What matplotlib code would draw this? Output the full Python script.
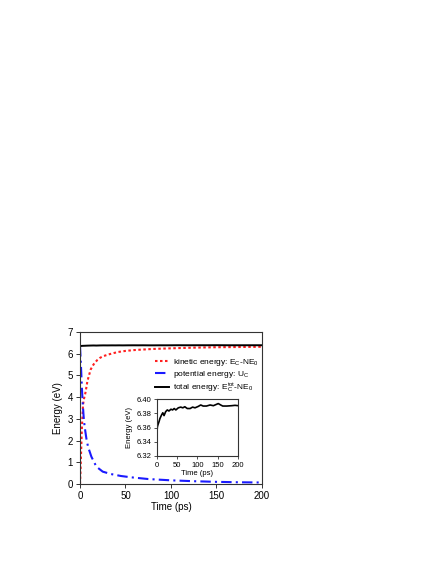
import numpy as np
import matplotlib.pyplot as plt

plt.rcParams['font.family'] = ['Liberation Sans', 'DejaVu Sans']
plt.rcParams['mathtext.fontset'] = 'custom'
plt.rcParams['mathtext.rm'] = 'Liberation Sans'
plt.rcParams['mathtext.it'] = 'Liberation Sans'

# ---------------------------------------------------------------------------
# Data
# ---------------------------------------------------------------------------
t_kin = [0, 0.5, 1, 2, 3.3, 4.5, 5.9, 7, 8.1, 10, 11.7, 14, 16, 19, 21.6, 25,
         30.8, 36, 41.8, 50, 60, 80, 100, 125, 150, 175, 200]
e_kin = [0, 0.5, 1.2, 2.5, 3.65, 3.95, 4.19, 4.45, 4.73, 5.02, 5.27, 5.45,
         5.57, 5.71, 5.80, 5.88, 5.96, 6.02, 6.08, 6.13, 6.17, 6.22, 6.25,
         6.28, 6.30, 6.31, 6.32]

t_pot = [0, 1, 2, 2.7, 4, 5.1, 7, 8.8, 12.5, 18, 25, 34, 45, 56, 75, 100,
         125, 150, 175, 200]
e_pot = [6.35, 5.5, 4.5, 3.9, 3.1, 2.64, 2.1, 1.72, 1.26, 0.80, 0.57, 0.46,
         0.37, 0.31, 0.23, 0.17, 0.13, 0.10, 0.08, 0.07]

t_tot = [0, 0.5, 1.0, 1.6, 3, 5.7, 8, 12, 15, 18, 22, 26, 30, 35, 39, 43, 47,
         53, 59, 64, 69, 75, 82, 88, 94, 102, 108, 114, 122, 131, 139, 147,
         151, 157, 162, 172, 184, 192, 200]
e_tot = [6.335, 6.345, 6.356, 6.361, 6.364, 6.3685, 6.373, 6.378, 6.381,
         6.377, 6.3826, 6.385, 6.3835, 6.386, 6.385, 6.387, 6.385, 6.388,
         6.389, 6.388, 6.3895, 6.387, 6.387, 6.389, 6.388, 6.390, 6.392,
         6.3905, 6.3905, 6.392, 6.391, 6.393, 6.394, 6.392, 6.3905, 6.3905,
         6.391, 6.3915, 6.391]

spine_color = '#333333'

fig = plt.figure(figsize=(4.36, 5.64), dpi=100)
ax = fig.add_axes([0.1835, 0.1418, 0.417, 0.2695])

ax.plot(t_kin, e_kin, color='#ff2020', ls=(0, (1.2, 1.2)), lw=1.5,
        label='kinetic energy: E$_\\mathregular{C}$-NE$_\\mathregular{0}$')
ax.plot(t_pot, e_pot, color='#1a1aff', ls=(0, (5, 2, 1, 2)), lw=1.5,
        label='potential energy: U$_\\mathregular{C}$')
ax.plot(t_tot, e_tot, color='black', lw=1.4,
        label='total energy: E$_\\mathregular{C}^\\mathregular{tot}$-NE$_\\mathregular{0}$')

ax.set_xlim(0, 200)
ax.set_ylim(0, 7)
ax.set_xticks([0, 50, 100, 150, 200])
ax.set_yticks(range(8))
ax.set_xlabel('Time (ps)', fontsize=7, labelpad=1)
ax.set_ylabel('Energy (eV)', fontsize=7, labelpad=3)
ax.tick_params(direction='out', length=3, width=0.7, labelsize=7, pad=2,
               color=spine_color)
for s in ax.spines.values():
    s.set_color(spine_color)
    s.set_linewidth(0.8)
ax.legend(loc='upper right', bbox_to_anchor=(1.01, 0.87), frameon=False,
          fontsize=6, handlelength=1.7, handletextpad=0.45, labelspacing=0.15,
          borderaxespad=0.2)

# inset
axi = fig.add_axes([0.3594, 0.1915, 0.187, 0.1005])
axi.plot(t_tot, e_tot, color='black', lw=1.2)
axi.set_xlim(0, 200)
axi.set_ylim(6.32, 6.40)
axi.set_xticks([0, 50, 100, 150, 200])
axi.set_yticks([6.32, 6.34, 6.36, 6.38, 6.40])
axi.set_yticklabels(['6.32', '6.34', '6.36', '6.38', '6.40'])
axi.set_xlabel('Time (ps)', fontsize=5.5, labelpad=1)
axi.set_ylabel('Energy (eV)', fontsize=5.5, labelpad=2)
axi.tick_params(direction='out', length=2.5, width=0.6, labelsize=5.5, pad=1.5,
                color=spine_color)
for s in axi.spines.values():
    s.set_color(spine_color)
    s.set_linewidth(0.8)

fig.savefig('out.png', dpi=100)
